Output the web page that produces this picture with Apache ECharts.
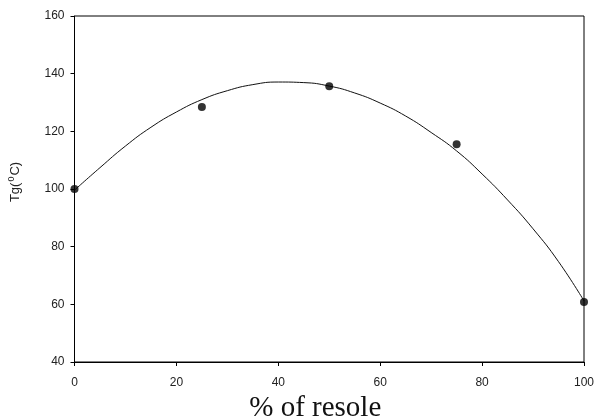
<!DOCTYPE html>
<html>
<head>
<meta charset="utf-8">
<script src="https://cdn.jsdelivr.net/npm/echarts@6/dist/echarts.min.js"></script>
<style>
  html, body { margin: 0; padding: 0; background: #fff; }
  #chart { width: 597px; height: 419px; }
</style>
</head>
<body>
<div id="chart"></div>
<script>
// Measured glass-transition temperatures vs. resole content
const resolePct = [0, 25, 50, 75, 100];
const tgMeasured = [100, 128.4, 135.6, 115.5, 60.8];

// Fitted trend curve, sampled along the resole axis
const fitPct = [0, 5, 10, 15, 20, 25, 30, 35, 40, 45, 50, 55, 60, 65, 70, 75, 80, 85, 90, 95, 100];
const fitTg = [99.6, 107.4, 114.9, 121.4, 126.7, 131.0, 134.1, 136.2, 137.1, 136.9, 135.7, 133.3, 129.8, 125.3, 119.6, 113.2, 105.2, 96.2, 86.2, 74.8, 61.2];

const xTicks = { min: 0, max: 100, step: 20 };
const yTicks = { min: 40, max: 160, step: 20 };

const chart = echarts.init(document.getElementById('chart'), null, { renderer: 'canvas' });

const labelStyle = { color: '#222', fontFamily: 'Liberation Sans, Arial, sans-serif', fontSize: 12 };

chart.setOption({
  animation: false,
  backgroundColor: '#fff',
  grid: {
    left: 74.5, right: 13, top: 16, bottom: 57,
    containLabel: false,
    outerBoundsMode: 'none',
    show: true, borderColor: '#000', borderWidth: 1, backgroundColor: 'transparent'
  },
  xAxis: {
    type: 'value',
    min: xTicks.min, max: xTicks.max, interval: xTicks.step,
    name: '% of resole',
    nameLocation: 'middle',
    nameGap: 32,
    nameTextStyle: {
      fontFamily: 'Liberation Serif, Times New Roman, serif',
      fontSize: 29, color: '#111',
      padding: [0, 28, 0, 0],
      verticalAlign: 'top'
    },
    axisLine: { show: true, lineStyle: { color: '#000', width: 1 } },
    axisTick: { show: true, inside: false, length: 4, lineStyle: { color: '#000' } },
    axisLabel: Object.assign({ margin: 15 }, labelStyle),
    splitLine: { show: false }
  },
  yAxis: {
    type: 'value',
    min: yTicks.min, max: yTicks.max, interval: yTicks.step,
    name: '{n|Tg(}{s|0}{n|C)}',
    nameLocation: 'middle',
    nameGap: 52,
    nameRotate: 90,
    nameTextStyle: {
      padding: [0, 0, 0, 14],
      rich: {
        n: { fontFamily: 'Liberation Sans, Arial, sans-serif', fontSize: 13, color: '#222' },
        s: { fontFamily: 'Liberation Sans, Arial, sans-serif', fontSize: 9, color: '#222', verticalAlign: 'top', padding: [0, 1, 6, 1] }
      }
    },
    axisLine: { show: true, lineStyle: { color: '#000', width: 1 } },
    axisTick: { show: true, inside: false, length: 4, lineStyle: { color: '#000' } },
    axisLabel: Object.assign({ margin: 10 }, labelStyle),
    splitLine: { show: false }
  },
  series: [
    {
      type: 'line',
      data: fitPct.map((x, i) => [x, fitTg[i]]),
      smooth: true,
      showSymbol: false,
      lineStyle: { color: '#111', width: 1 },
      z: 2
    },
    {
      type: 'scatter',
      data: resolePct.map((x, i) => [x, tgMeasured[i]]),
      symbol: 'circle',
      symbolSize: 8,
      itemStyle: { color: '#000' },
      clip: false,
      z: 3
    }
  ]
});
</script>
</body>
</html>
